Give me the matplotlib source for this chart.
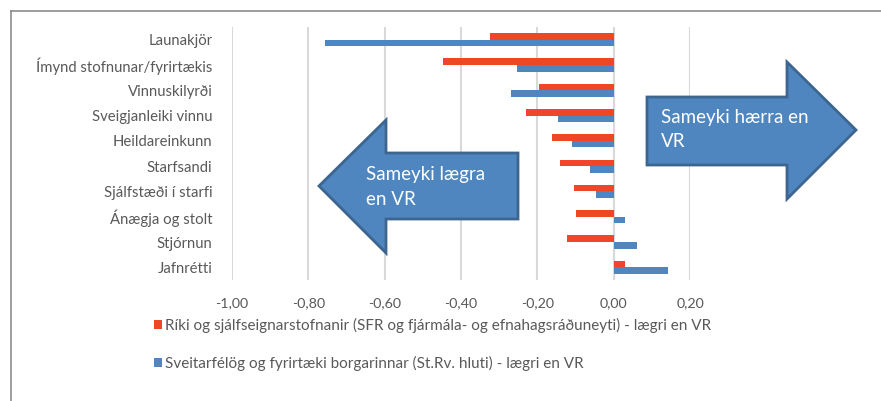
import matplotlib
matplotlib.use("Agg")
import matplotlib.pyplot as plt
import numpy as np
from matplotlib.patches import Polygon
from matplotlib.lines import Line2D
from matplotlib.ticker import FuncFormatter

categories = ["Launakjör", "Ímynd stofnunar/fyrirtækis", "Vinnuskilyrði",
              "Sveigjanleiki vinnu", "Heildareinkunn", "Starfsandi",
              "Sjálfstæði í starfi", "Ánægja og stolt", "Stjórnun", "Jafnrétti"]
rikid = [-0.324, -0.448, -0.195, -0.229, -0.161, -0.140, -0.104, -0.099, -0.121, 0.030]
borgin = [-0.756, -0.252, -0.270, -0.146, -0.110, -0.062, -0.045, 0.030, 0.060, 0.143]
series_names = ["Ríki og sjálfseignarstofnanir (SFR og fjármála- og efnahagsráðuneyti) - lægri en VR",
                "Sveitarfélög og fyrirtæki borgarinnar (St.Rv. hluti) - lægri en VR"]
xticks = [-1.0, -0.8, -0.6, -0.4, -0.2, 0.0, 0.2]

RED = "#EF4627"
BLUE = "#4F86BF"
TXT = "#595959"
FONT = ["Lato", "DejaVu Sans"]
plt.rcParams['font.family'] = FONT

W, H = 881, 401
fig = plt.figure(figsize=(W / 100, H / 100), dpi=100)

def fx(px):
    return px / W

def fy(py):
    return 1 - py / H

ax = fig.add_axes([fx(232), fy(280), fx(690) - fx(232), (280 - 27) / H])
y = np.arange(len(categories))
bh = 0.26
b1 = ax.barh(y - bh / 2, rikid, height=bh, color=RED, label=series_names[0], zorder=3)
b2 = ax.barh(y + bh / 2, borgin, height=bh, color=BLUE, label=series_names[1], zorder=3)
ax.set_ylim(len(categories) - 0.5, -0.5)
ax.set_xlim(-1.0, 0.2)
ax.set_xticks(xticks)
ax.xaxis.set_major_formatter(FuncFormatter(lambda v, p: f"{v:.2f}".replace(".", ",").replace("-0,00", "0,00")))
ax.set_yticks(y)
ax.set_yticklabels(categories)
ax.grid(axis="x", color="#D9D9D9", linewidth=1.5, zorder=0)
for s in ax.spines.values():
    s.set_visible(False)
ax.tick_params(axis="x", length=0, colors=TXT, labelsize=10.3, pad=12)
ax.tick_params(axis="y", length=0, colors=TXT, labelsize=10.7, pad=14)

fig.legend(handles=[b1, b2], loc="upper left", bbox_to_anchor=(fx(154), fy(318)),
           frameon=False, fontsize=11.0, labelcolor=TXT, handlelength=0.5,
           handleheight=0.5, handletextpad=0.2, labelspacing=1.5, borderaxespad=0,
           borderpad=0)

# chart border (top and left visible)
fig.add_artist(Line2D([fx(10.5), fx(W)], [fy(10.5), fy(10.5)], color="#8C8C8C", linewidth=1.2, transform=fig.transFigure))
fig.add_artist(Line2D([fx(10.5), fx(10.5)], [fy(10.5), fy(H)], color="#8C8C8C", linewidth=1.2, transform=fig.transFigure))

ARROW_FILL = "#4F86BF"
ARROW_EDGE = "#3C6590"
left_arrow = [(319, 186), (386, 120), (386, 153), (518, 153), (518, 219), (386, 219), (386, 253)]
right_arrow = [(647, 97), (787, 97), (787, 62), (856, 130), (787, 199), (787, 165), (647, 165)]
for pts in (left_arrow, right_arrow):
    poly = Polygon([(fx(a), fy(b)) for a, b in pts], closed=True, facecolor=ARROW_FILL,
                   edgecolor=ARROW_EDGE, linewidth=2.0, transform=fig.transFigure, zorder=5)
    fig.add_artist(poly)

fig.text(fx(366), fy(174), "Sameyki lægra", color="white", fontsize=13.5, va="center", ha="left", zorder=6)
fig.text(fx(366), fy(199), "en VR", color="white", fontsize=13.5, va="center", ha="left", zorder=6)
fig.text(fx(661), fy(118), "Sameyki hærra en", color="white", fontsize=13.5, va="center", ha="left", zorder=6)
fig.text(fx(661), fy(142), "VR", color="white", fontsize=13.5, va="center", ha="left", zorder=6)

fig.savefig("out.png", dpi=100, facecolor="white")
